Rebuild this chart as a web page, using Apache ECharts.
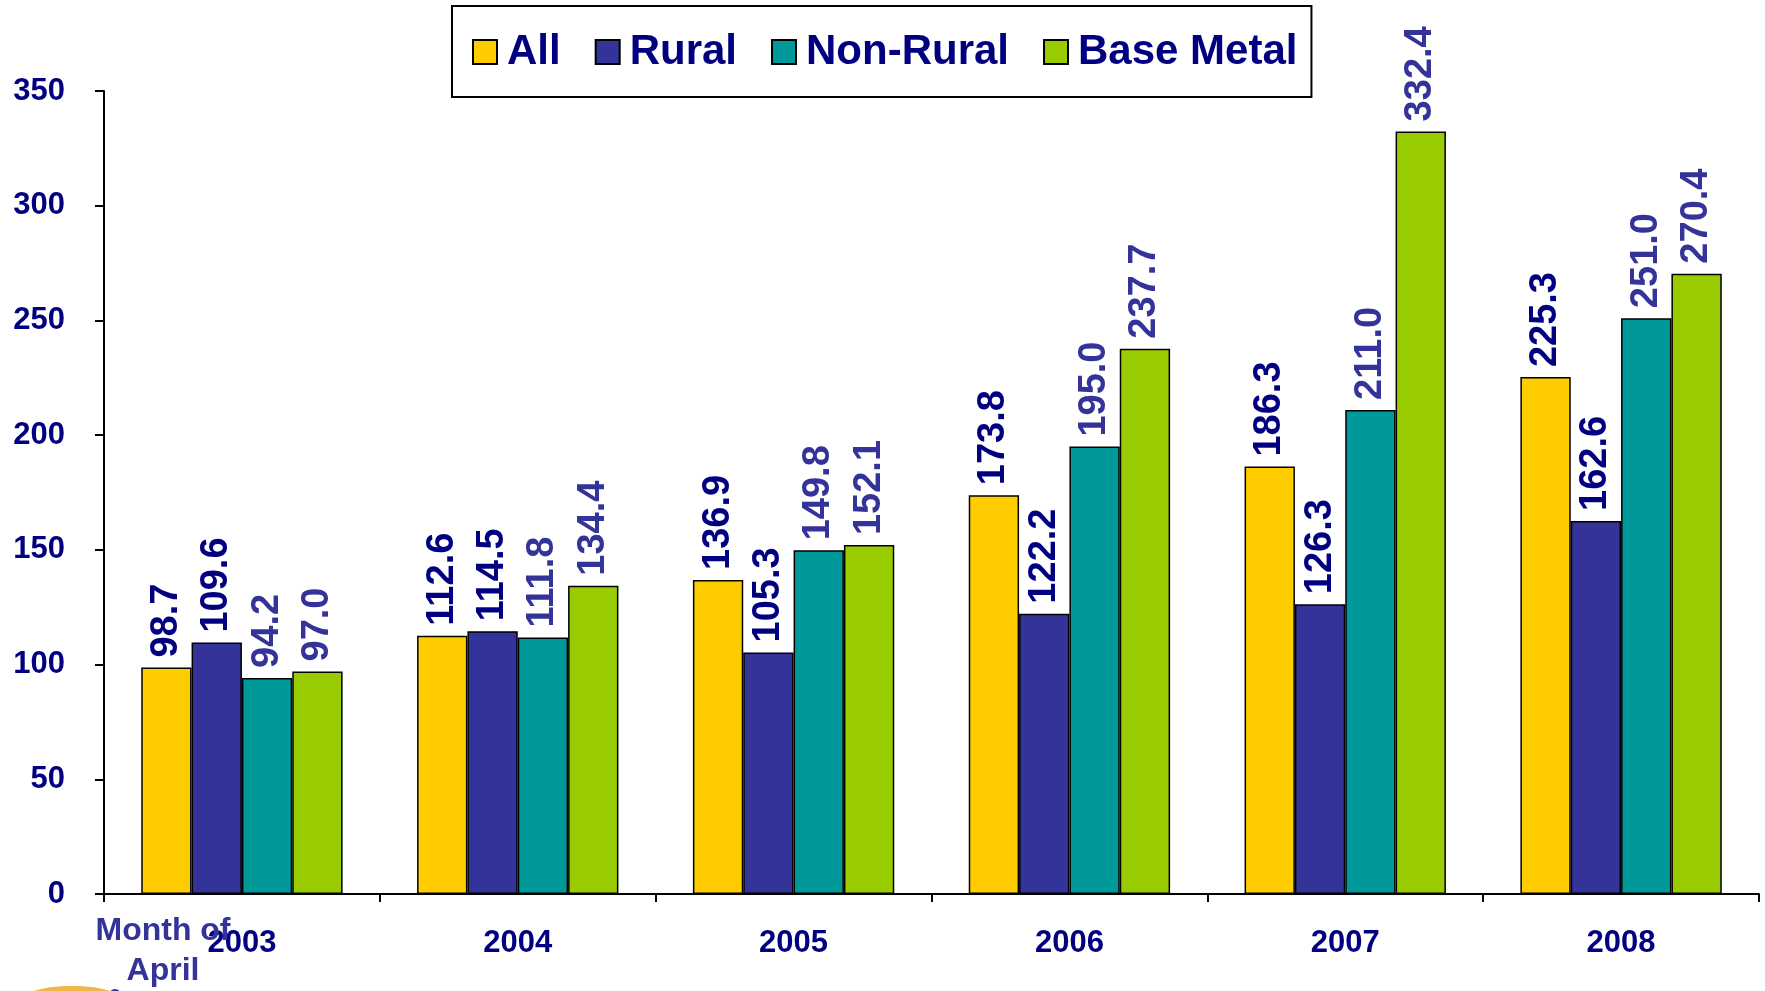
<!DOCTYPE html>
<html>
<head>
<meta charset="utf-8">
<script src="https://cdn.jsdelivr.net/npm/echarts@6/dist/echarts.min.js"></script>
<style>
html, body { margin: 0; padding: 0; background: #fff; }
#main { width: 1765px; height: 991px; }
</style>
</head>
<body>
<div id="main"></div>
<script>
var years = ['2003', '2004', '2005', '2006', '2007', '2008'];
var allVals = [98.7, 112.6, 136.9, 173.8, 186.3, 225.3];
var ruralVals = [109.6, 114.5, 105.3, 122.2, 126.3, 162.6];
var nonRuralVals = [94.2, 111.8, 149.8, 195.0, 211.0, 251.0];
var baseMetalVals = [97.0, 134.4, 152.1, 237.7, 332.4, 270.4];

var font = 'Arial, "Liberation Sans", sans-serif';

function makeSeries(name, data, color, labelColor) {
	return {
		name : name,
		type : 'bar',
		data : data,
		barGap : '0%',
		barCategoryGap : '27%',
		itemStyle : {
			color : color,
			borderColor : '#000',
			borderWidth : 1.5
		},
		label : {
			show : true,
			position : 'top',
			rotate : 90,
			align : 'left',
			verticalAlign : 'middle',
			distance : 10,
			fontSize : 38,
			fontWeight : 'bold',
			fontFamily : font,
			color : labelColor,
			formatter : function(p) {
				return p.value.toFixed(1);
			}
		}
	};
}

var myChart = echarts.init(document.getElementById('main'));
var option = {
	backgroundColor : '#fff',
	animation : false,
	legend : {
		left : 452,
		top : 6,
		padding : [ 25, 14, 24, 20 ],
		itemGap : 34,
		itemWidth : 24,
		itemHeight : 24,
		borderColor : '#000',
		borderWidth : 2,
		icon : 'rect',
		textStyle : {
			fontSize : 42,
			fontWeight : 'bold',
			fontFamily : font,
			color : '#000080',
			padding : [ 0, 0, 0, 5 ]
		},
		data : [ 'All', 'Rural', 'Non-Rural', 'Base Metal' ]
	},
	grid : {
		left : 104,
		top : 91,
		width : 1655,
		height : 803,
		outerBoundsMode : 'none'
	},
	xAxis : {
		type : 'category',
		data : years,
		axisLine : { lineStyle : { color : '#000', width : 2 } },
		axisTick : { show : true, length : 8, lineStyle : { color : '#000', width : 2 } },
		axisLabel : {
			margin : 34,
			fontSize : 31,
			fontWeight : 'bold',
			fontFamily : font,
			color : '#000080'
		},
		splitLine : { show : false }
	},
	yAxis : {
		type : 'value',
		min : 0,
		max : 350,
		interval : 50,
		axisLine : { show : true, lineStyle : { color : '#000', width : 2 } },
		axisTick : { show : true, length : 9, lineStyle : { color : '#000', width : 2 } },
		axisLabel : {
			margin : 39,
			fontSize : 31,
			fontWeight : 'bold',
			fontFamily : font,
			color : '#000080'
		},
		splitLine : { show : false }
	},
	graphic : [
		{
			type : 'text',
			x : 163,
			y : 931,
			style : {
				text : 'Month of',
				textAlign : 'center',
				textVerticalAlign : 'middle',
				fontSize : 32,
				fontWeight : 'bold',
				fontFamily : font,
				fill : '#333399'
			},
			z : 10
		},
		{
			type : 'text',
			x : 163,
			y : 971,
			style : {
				text : 'April',
				textAlign : 'center',
				textVerticalAlign : 'middle',
				fontSize : 32,
				fontWeight : 'bold',
				fontFamily : font,
				fill : '#333399'
			},
			z : 10
		},
		{
			type : 'ellipse',
			shape : { cx : 72, cy : 1000, rx : 50, ry : 14 },
			style : { fill : '#F2B54A' },
			z : -1
		},
		{
			type : 'circle',
			shape : { cx : 115, cy : 995, r : 6 },
			style : { fill : '#333399' },
			z : -1
		}
	],
	series : [
		makeSeries('All', allVals, '#FFCC00', '#000080'),
		makeSeries('Rural', ruralVals, '#333399', '#000080'),
		makeSeries('Non-Rural', nonRuralVals, '#009999', '#333399'),
		makeSeries('Base Metal', baseMetalVals, '#99CC00', '#333399')
	]
};
myChart.setOption(option);
</script>
</body>
</html>
